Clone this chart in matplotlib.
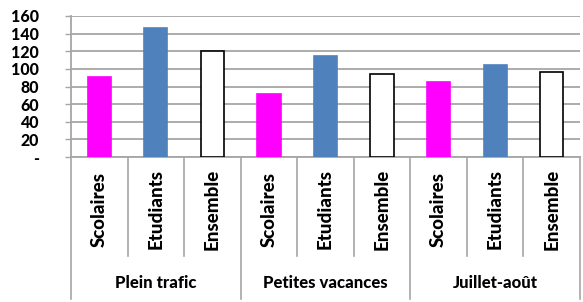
import numpy as np
import matplotlib.pyplot as plt
import matplotlib.transforms as mtrans

groups = ['Plein trafic', 'Petites vacances', 'Juillet-août']
subcats = ['Scolaires', 'Etudiants', 'Ensemble']
scolaires = [91, 72, 85]
etudiants = [146, 115, 104]
ensemble = [120, 94, 97]

yticks = [0, 20, 40, 60, 80, 100, 120, 140, 160]
ylabels = ['-', '20', '40', '60', '80', '100', '120', '140', '160']

plt.rcParams['font.family'] = ['Lato', 'DejaVu Sans']

fig = plt.figure(figsize=(5.83, 3.02), dpi=100)
ax = fig.add_axes([71/583, 1 - 157/302, (580 - 71)/583, 141/302])

grid_c = '#a6a6a6'
values = []
colors = []
edges = []
for i in range(3):
    values += [scolaires[i], etudiants[i], ensemble[i]]
    colors += ['#ff00ff', '#4f81bd', 'white']
    edges += ['#ff00ff', '#4f81bd', 'black']
x = np.arange(9)
ax.bar(x, values, width=0.41, color=colors, edgecolor=edges, linewidth=1.2, zorder=3)

ax.set_xlim(-0.5, 8.5)
ax.set_ylim(0, 160)
ax.set_yticks(yticks)
ax.set_yticklabels(ylabels, fontsize=11.5, fontweight='black')
ax.yaxis.grid(True, color=grid_c, linewidth=1.3)
ax.set_axisbelow(True)
ax.tick_params(axis='y', length=4.3, color=grid_c, width=1, pad=19)
ax.set_xticks([])
for s in ['top', 'right']:
    ax.spines[s].set_visible(False)
for s in ['left', 'bottom']:
    ax.spines[s].set_color(grid_c)
    ax.spines[s].set_linewidth(1.3)

trans = mtrans.blended_transform_factory(ax.transData, ax.transAxes)
for k in range(10):
    xb = k - 0.5
    y_end = -1.01 if k % 3 == 0 else -0.70
    ax.plot([xb, xb], [0, y_end], color=grid_c, lw=1.2, transform=trans, clip_on=False)

for i in range(9):
    ax.text(i, -0.37, subcats[i % 3], transform=trans, rotation=90, ha='center', va='center',
            fontsize=13.5, fontweight='black')
for g in range(3):
    ax.text(3*g + 1, -0.895, groups[g], transform=trans, ha='center', va='center',
            fontsize=12, fontweight='black')

fig.savefig('out.png', dpi=100)
